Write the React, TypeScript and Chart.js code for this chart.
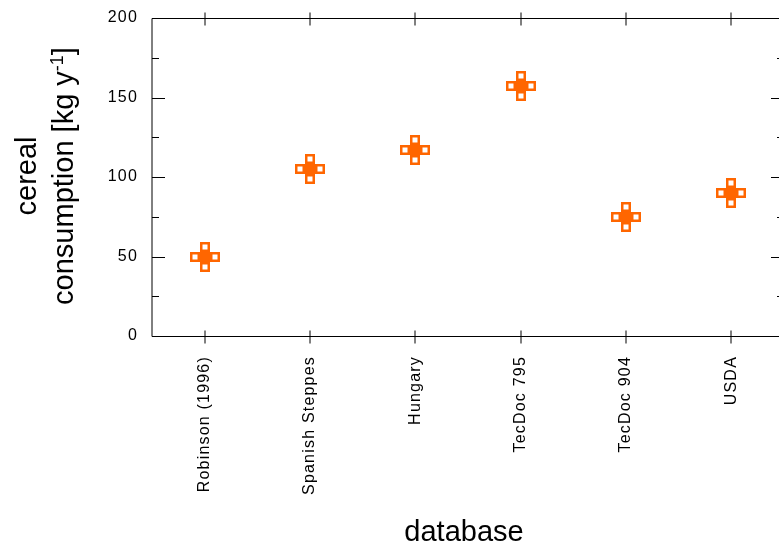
import React, { useEffect, useRef } from 'react';
import { Chart, registerables } from 'chart.js';

Chart.register(...registerables);

// ---- data ----
const categories: string[] = ['Robinson (1996)', 'Spanish Steppes', 'Hungary', 'TecDoc 795', 'TecDoc 904', 'USDA'];
const cerealConsumption: number[] = [50, 105, 117, 157, 75, 90];
const yMajorTicks: number[] = [0, 50, 100, 150, 200];
const yMinorTicks: number[] = [25, 75, 125, 175];
const xTitle = 'database';
const yTitleLine1 = 'cereal';
const yTitleLine2 = 'consumption [kg y';
const yTitleSup = '-1';
const yTitleEnd = ']';

const FONT = '"Liberation Sans", Arial, Helvetica, sans-serif';
const ORANGE = '#ff6600';
const CELL = 10;
const MARK = CELL * 3;

function makeMarker(color: string): HTMLCanvasElement {
  const c = document.createElement('canvas');
  c.width = MARK;
  c.height = MARK;
  const g = c.getContext('2d')!;
  const arms = [
    [CELL, 0],
    [0, CELL],
    [2 * CELL, CELL],
    [CELL, 2 * CELL],
  ];
  arms.forEach(([x, y]) => {
    g.fillStyle = color;
    g.fillRect(x, y, CELL, CELL);
    g.fillStyle = '#ffffff';
    g.fillRect(x + 2.5, y + 2.5, CELL - 5, CELL - 5);
  });
  g.fillStyle = color;
  g.fillRect(CELL, CELL, CELL, CELL);
  return c;
}

const framePlugin = {
  id: 'frame',
  afterDatasetsUpdate(chart: any) {
    // snap marker images to whole pixels so they stay crisp
    const meta = chart.getDatasetMeta(0);
    meta.data.forEach((el: any) => {
      el.x = Math.round(el.x - MARK / 2) + MARK / 2;
      el.y = Math.round(el.y - MARK / 2) + MARK / 2;
    });
  },
  beforeDraw(chart: any) {
    (chart.ctx as any).letterSpacing = '1.2px';
  },
  afterDraw(chart: any) {
    const { ctx, chartArea: a, scales } = chart;
    const xs = scales.x;
    const ys = scales.y;
    ctx.save();
    (ctx as any).letterSpacing = '0px';
    ctx.strokeStyle = '#000';
    ctx.lineWidth = 1;
    const top = Math.round(a.top) + 0.5;
    const bottom = Math.round(a.bottom) + 0.5;
    const left = Math.round(a.left);
    const right = Math.round(a.right);
    ctx.beginPath();
    ctx.moveTo(left, top);
    ctx.lineTo(right, top);
    ctx.moveTo(left, bottom);
    ctx.lineTo(right, bottom);
    ctx.moveTo(left, top);
    ctx.lineTo(left, bottom);
    ctx.moveTo(right, top);
    ctx.lineTo(right, bottom);
    yMajorTicks.forEach((v) => {
      const py = Math.round(ys.getPixelForValue(v)) + 0.5;
      ctx.moveTo(left, py);
      ctx.lineTo(left + 13, py);
      ctx.moveTo(right, py);
      ctx.lineTo(right - 13, py);
    });
    yMinorTicks.forEach((v) => {
      const py = Math.round(ys.getPixelForValue(v)) + 0.5;
      ctx.moveTo(left, py);
      ctx.lineTo(left + 7, py);
      ctx.moveTo(right, py);
      ctx.lineTo(right - 7, py);
    });
    categories.forEach((_, i) => {
      const px = Math.round(xs.getPixelForValue(i));
      ctx.moveTo(px, top - 6);
      ctx.lineTo(px, top + 7);
      ctx.moveTo(px, bottom - 6);
      ctx.lineTo(px, bottom + 7);
    });
    ctx.stroke();

    ctx.fillStyle = '#000';
    ctx.font = `29px ${FONT}`;
    ctx.textAlign = 'center';
    ctx.textBaseline = 'alphabetic';
    ctx.fillText(xTitle, 464, 541);

    const cy = 176;
    ctx.save();
    ctx.translate(36, cy);
    ctx.rotate(-Math.PI / 2);
    ctx.fillText(yTitleLine1, 0, 0);
    ctx.restore();

    ctx.save();
    ctx.translate(73, cy);
    ctx.rotate(-Math.PI / 2);
    ctx.textAlign = 'left';
    ctx.font = `29px ${FONT}`;
    const w1 = ctx.measureText(yTitleLine2).width;
    const w3 = ctx.measureText(yTitleEnd).width;
    ctx.font = `18px ${FONT}`;
    const w2 = ctx.measureText(yTitleSup).width;
    const start = -(w1 + w2 + w3) / 2;
    ctx.font = `29px ${FONT}`;
    ctx.fillText(yTitleLine2, start, 0);
    ctx.font = `18px ${FONT}`;
    ctx.fillText(yTitleSup, start + w1, -10);
    ctx.font = `29px ${FONT}`;
    ctx.fillText(yTitleEnd, start + w1 + w2, 0);
    ctx.restore();

    ctx.restore();
  },
};

export default function App() {
  const ref = useRef<HTMLCanvasElement>(null);
  useEffect(() => {
    document.body.style.margin = '0';
    const marker = makeMarker(ORANGE);
    const chart = new Chart(ref.current as HTMLCanvasElement, {
      type: 'line',
      data: {
        labels: categories,
        datasets: [
          {
            data: cerealConsumption,
            showLine: false,
            pointStyle: marker as any,
            pointRadius: 15,
            pointHoverRadius: 15,
            borderColor: ORANGE,
            backgroundColor: ORANGE,
          },
        ],
      },
      options: {
        responsive: false,
        animation: false,
        events: [],
        layout: { padding: { top: 18, right: 13, left: 0, bottom: 0 } },
        plugins: { legend: { display: false }, tooltip: { enabled: false } },
        scales: {
          x: {
            type: 'category',
            offset: true,
            grid: { display: false, drawTicks: false },
            border: { display: false },
            ticks: {
              minRotation: 90,
              maxRotation: 90,
              autoSkip: false,
              padding: 20,
              color: '#000',
              font: { family: FONT, size: 16 },
            },
            afterFit: (s: any) => {
              s.height = 215;
              s.paddingLeft = 0;
              s.paddingRight = 0;
              s.paddingTop = 0;
              s.paddingBottom = 0;
            },
          },
          y: {
            min: 0,
            max: 200,
            grid: { display: false, drawTicks: false },
            border: { display: false },
            ticks: {
              stepSize: 50,
              padding: 14,
              color: '#000',
              font: { family: FONT, size: 16 },
            },
            afterFit: (s: any) => {
              s.width = 152;
              s.paddingLeft = 0;
              s.paddingRight = 0;
              s.paddingTop = 0;
              s.paddingBottom = 0;
            },
          },
        },
      },
      plugins: [framePlugin],
    } as any);
    return () => chart.destroy();
  }, []);
  return (
    <div style={{ width: 779, height: 551, overflow: 'hidden', background: '#fff' }}>
      <canvas ref={ref} width={800} height={551} style={{ display: 'block' }} />
    </div>
  );
}
